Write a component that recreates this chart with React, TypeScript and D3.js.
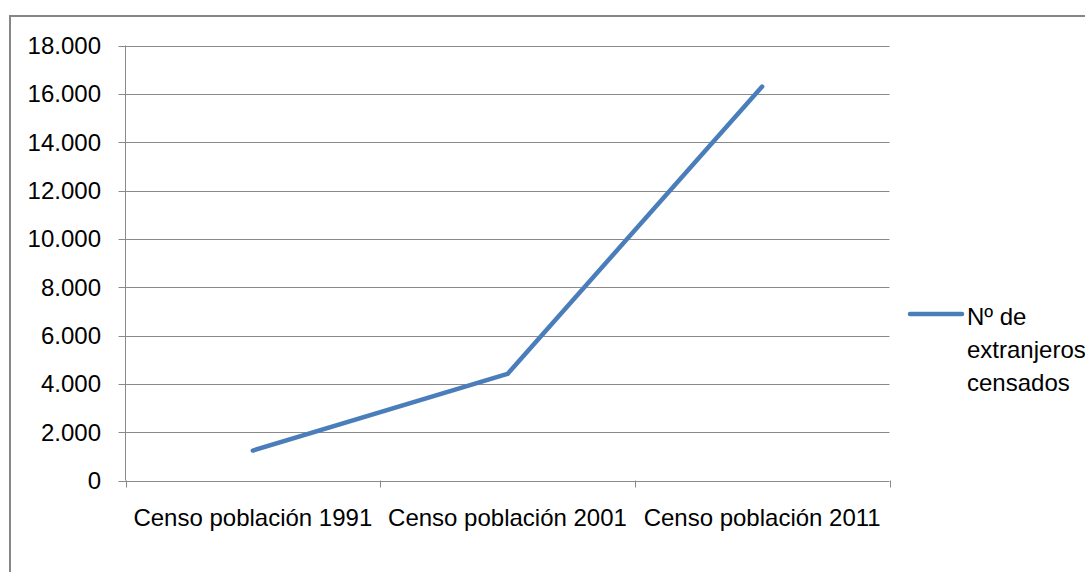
import React from "react";
import * as d3 from "d3";

const categories = ["Censo población 1991", "Censo población 2001", "Censo población 2011"];
const values = [1240, 4410, 16300];
const yTicks = [0, 2000, 4000, 6000, 8000, 10000, 12000, 14000, 16000, 18000];
const seriesName = ["Nº de", "extranjeros", "censados"];

export default function App() {
  const W = 1085, H = 572;
  const left = 125.5, right = 889.5, top = 45.5, bottom = 480.5;
  const x = d3.scaleBand<string>().domain(categories).range([left, right]);
  const y = d3.scaleLinear().domain([0, 18000]).range([bottom, top]);
  const fmt = (v: number) => d3.format(",")(v).replace(/,/g, ".");
  const line = d3.line<number>()
    .x((_, i) => (x(categories[i]) as number) + x.bandwidth() / 2)
    .y((d) => y(d));
  const font = "'Liberation Sans', Arial, sans-serif";
  const fs = 24;
  const boundaries = [...categories.map((c) => x(c) as number), right];
  return (
    <svg width={W} height={H} style={{ position: "absolute", left: 0, top: 0 }} fontFamily={font}>
      <rect x={0} y={0} width={W} height={H} fill="#fff" />
      <rect x={10} y={16} width={W + 20} height={H + 20} fill="none" stroke="#868686" strokeWidth={2} />
      {yTicks.map((t) => (
        <g key={t}>
          <line x1={left - 7} x2={right} y1={Math.round(y(t)) + 0.5} y2={Math.round(y(t)) + 0.5} stroke="#8a8a8a" strokeWidth={1} />
          <text x={101} y={y(t)} dy="0.35em" textAnchor="end" fontSize={fs} fill="#000">{fmt(t)}</text>
        </g>
      ))}
      <line x1={left} x2={left} y1={top} y2={bottom} stroke="#8a8a8a" strokeWidth={1} />
      {boundaries.map((b, i) => (
        <line key={i} x1={Math.round(b) + 0.5} x2={Math.round(b) + 0.5} y1={bottom} y2={bottom + 7} stroke="#8a8a8a" strokeWidth={1} />
      ))}
      {categories.map((c) => (
        <text key={c} x={(x(c) as number) + x.bandwidth() / 2} y={526} textAnchor="middle" fontSize={fs} fill="#000">{c}</text>
      ))}
      <path d={line(values) || ""} fill="none" stroke="#4a7ebb" strokeWidth={4.5} strokeLinejoin="round" strokeLinecap="round" />
      <line x1={910} x2={962} y1={314} y2={314} stroke="#4a7ebb" strokeWidth={4.5} strokeLinecap="round" />
      {seriesName.map((s, i) => (
        <text key={s} x={967} y={325 + i * 33} fontSize={fs} fill="#000">{s}</text>
      ))}
    </svg>
  );
}
